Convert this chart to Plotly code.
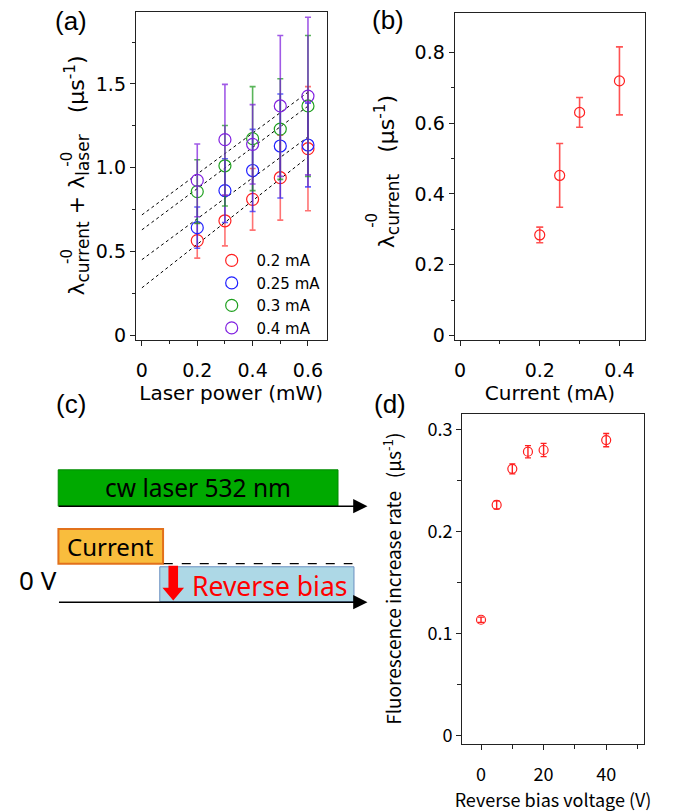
import plotly.graph_objects as go

W, H = 683, 812

# ---------------- data ----------------
# panel (a)
laser_power = [0.2, 0.3, 0.4, 0.5, 0.6]
current_labels = ["0.2 mA", "0.25 mA", "0.3 mA", "0.4 mA"]
rate_02 = [0.566, 0.684, 0.812, 0.941, 1.114]
err_02 = [0.105, 0.15, 0.184, 0.253, 0.37]
rate_025 = [0.643, 0.864, 0.984, 1.130, 1.136]
err_025 = [0.123, 0.19, 0.245, 0.31, 0.25]
rate_03 = [0.858, 1.012, 1.174, 1.231, 1.369]
err_03 = [0.19, 0.24, 0.31, 0.30, 0.42]
rate_04 = [0.925, 1.168, 1.140, 1.369, 1.428]
err_04 = [0.217, 0.33, 0.237, 0.42, 0.47]
fit_intercept = [0.284, 0.452, 0.630, 0.719]
fit_slope = [1.30, 1.22, 1.23, 1.22]
fit_x = [0.0, 0.6]

# panel (b)
current_mA = [0.2, 0.25, 0.3, 0.4]
lam_current = [0.284, 0.452, 0.630, 0.719]
lam_current_err = [0.022, 0.09, 0.042, 0.096]

# panel (d)
bias_voltage = [0, 5, 10, 15, 20, 40]
fluor_rate = [0.1133, 0.226, 0.2614, 0.2782, 0.2799, 0.2896]
fluor_rate_err = [0.0026, 0.004, 0.0049, 0.006, 0.0065, 0.0065]

a_colors = ["#FF2020", "#2020FF", "#1FA01F", "#8020E0"]
a_err_colors = ["rgba(255,40,40,0.65)", "rgba(30,30,255,0.7)",
                "rgba(20,150,20,0.7)", "rgba(120,20,220,0.7)"]


def px(x):
    return x / W


def py(y):
    return 1 - y / H


fig = go.Figure()

rates = [rate_02, rate_025, rate_03, rate_04]
errs = [err_02, err_025, err_03, err_04]

# fit lines (a)
for b, m in zip(fit_intercept, fit_slope):
    fig.add_trace(go.Scatter(
        x=fit_x, y=[b + m * v for v in fit_x], mode="lines",
        line=dict(color="black", width=1, dash="dot"),
        showlegend=False, hoverinfo="skip", xaxis="x", yaxis="y"))

for lab, r, e, c, ec in zip(current_labels, rates, errs, a_colors, a_err_colors):
    fig.add_trace(go.Scatter(
        x=laser_power, y=r, mode="markers", name=" " + lab,
        marker=dict(symbol="circle-open", size=12, color=c, line=dict(width=1.2, color=c)),
        error_y=dict(type="data", array=e, visible=True, color=ec, thickness=1.6, width=3),
        xaxis="x", yaxis="y"))

# panel (b)
fig.add_trace(go.Scatter(
    x=current_mA, y=lam_current, mode="markers", showlegend=False,
    marker=dict(symbol="circle-open", size=10, color="#FF2020", line=dict(width=1.2, color="#FF2020")),
    error_y=dict(type="data", array=lam_current_err, visible=True,
                 color="rgba(255,40,40,0.8)", thickness=1.6, width=3.5),
    xaxis="x2", yaxis="y2"))

# panel (d)
fig.add_trace(go.Scatter(
    x=bias_voltage, y=fluor_rate, mode="markers", showlegend=False,
    marker=dict(symbol="circle-open", size=9, color="#FF2020", line=dict(width=1.2, color="#FF2020")),
    error_y=dict(type="data", array=fluor_rate_err, visible=True,
                 color="#FF2020", thickness=1.4, width=3),
    xaxis="x3", yaxis="y3"))

axis_common = dict(showline=True, linecolor="#222", linewidth=1, mirror=True,
                   ticks="outside", ticklen=5, tickcolor="#222", tickwidth=1,
                   showgrid=False, zeroline=False)
tfont = dict(family="DejaVu Sans", size=19, color="black")
dfont = dict(family="Noto Sans CJK JP", size=18, color="black")

fig.update_layout(
    width=W, height=H, margin=dict(l=0, r=0, t=0, b=0),
    paper_bgcolor="white", plot_bgcolor="white",
    xaxis=dict(domain=[px(135), px(326)], range=[-0.022, 0.667], anchor="y",
               tickvals=[0, 0.2, 0.4, 0.6], ticktext=["0", "0.2", "0.4", "0.6"],
               minor=dict(tickvals=[0.1, 0.3, 0.5], ticklen=3, ticks="outside", tickcolor="#222"),
               tickfont=tfont, ticklabelstandoff=8,
               title=dict(text="Laser power (mW)", font=dict(family="DejaVu Sans", size=20, color="black"), standoff=2),
               **axis_common),
    yaxis=dict(domain=[py(343), py(12)], range=[-0.03, 1.93], anchor="x",
               tickvals=[0, 0.5, 1.0, 1.5], ticktext=["0", "0.5", "1.0", "1.5"],
               minor=dict(tickvals=[0.25, 0.75, 1.25, 1.75], ticklen=3, ticks="outside", tickcolor="#222"),
               tickfont=tfont, **axis_common),
    xaxis2=dict(domain=[px(454.3), px(645.3)], range=[-0.0135, 0.465], anchor="y2",
                tickvals=[0, 0.2, 0.4], ticktext=["0", "0.2", "0.4"],
                minor=dict(tickvals=[0.1, 0.3], ticklen=3, ticks="outside", tickcolor="#222"),
                tickfont=tfont, ticklabelstandoff=8,
                title=dict(text="Current (mA)", font=dict(family="DejaVu Sans", size=20, color="black"), standoff=2),
                **axis_common),
    yaxis2=dict(domain=[py(343), py(13)], range=[-0.014, 0.911], anchor="x2",
                tickvals=[0, 0.2, 0.4, 0.6, 0.8], ticktext=["0", "0.2", "0.4", "0.6", "0.8"],
                minor=dict(tickvals=[0.1, 0.3, 0.5, 0.7], ticklen=3, ticks="outside", tickcolor="#222"),
                tickfont=tfont, **axis_common),
    xaxis3=dict(domain=[px(461.7), px(644)], range=[-6.07, 52.1], anchor="y3",
                tickvals=[0, 20, 40], ticktext=["0", "20", "40"],
                minor=dict(tickvals=[10, 30, 50], ticklen=4, ticks="outside", tickcolor="#222"),
                tickfont=dfont, ticklabelstandoff=10,
                title=dict(text="Reverse bias voltage (V)", font=dict(family="Noto Sans CJK JP", size=18, color="black"), standoff=4),
                **axis_common),
    yaxis3=dict(domain=[py(749.3), py(416.7)], range=[-0.0084, 0.3156], anchor="x3",
                tickvals=[0, 0.1, 0.2, 0.3], ticktext=["0", "0.1", "0.2", "0.3"],
                minor=dict(tickvals=[0.05, 0.15, 0.25], ticklen=4, ticks="outside", tickcolor="#222"),
                tickfont=dfont,
                title=dict(text="Fluorescence increase rate   (μs<sup>-1</sup>)",
                           font=dict(family="Noto Sans CJK JP", size=19, color="black"), standoff=20),
                **axis_common),
    legend=dict(x=px(211), y=py(246), xanchor="left", yanchor="top",
                bgcolor="rgba(0,0,0,0)", font=dict(family="DejaVu Sans", size=15, color="black"),
                itemwidth=30, tracegroupgap=0),
)

ann = []
lab_font = dict(family="Liberation Sans", size=26, color="black")
for t, x, y in [("(a)", 70, 21), ("(b)", 388, 20), ("(c)", 70, 407), ("(d)", 390, 407)]:
    ann.append(dict(text=t, x=px(x), y=py(y), xref="paper", yref="paper",
                    showarrow=False, xanchor="center", yanchor="middle", font=lab_font))

SUB = "<sub><span style='font-size:17px'>{}</span></sub>"
# y titles (a) and (b) with stacked superscripts
ann.append(dict(text="λ" + SUB.format("current") + " + λ" + SUB.format("laser") + "   (μs<sup>-1</sup>)",
                x=px(76), y=py(177), xref="paper", yref="paper", showarrow=False,
                textangle=-90, xanchor="center", yanchor="middle",
                font=dict(family="DejaVu Sans", size=22, color="black")))
for yy in [258, 160]:
    ann.append(dict(text="-0", x=px(66), y=py(yy), xref="paper", yref="paper", showarrow=False,
                    textangle=-90, xanchor="center", yanchor="middle",
                    font=dict(family="DejaVu Sans", size=15, color="black")))
ann.append(dict(text="λ" + SUB.format("current") + "   (μs<sup>-1</sup>)",
                x=px(386), y=py(173), xref="paper", yref="paper", showarrow=False,
                textangle=-90, xanchor="center", yanchor="middle",
                font=dict(family="DejaVu Sans", size=22, color="black")))
ann.append(dict(text="-0", x=px(372), y=py(222), xref="paper", yref="paper", showarrow=False,
                textangle=-90, xanchor="center", yanchor="middle",
                font=dict(family="DejaVu Sans", size=15, color="black")))

# panel (c) diagram texts
cfont = "Noto Sans"
ann.append(dict(text="cw laser 532 nm", x=px(197), y=py(491), xref="paper", yref="paper",
                xanchor="center", yanchor="middle",
                showarrow=False, font=dict(family=cfont, size=24.5, color="black")))
ann.append(dict(text="Current", x=px(110), y=py(551), xref="paper", yref="paper",
                xanchor="center", yanchor="middle",
                showarrow=False, font=dict(family=cfont, size=24, color="black")))
ann.append(dict(text="Reverse bias", x=px(189), y=py(590), xref="paper", yref="paper",
                xanchor="left", yanchor="middle",
                showarrow=False, font=dict(family=cfont, size=26.5, color="red")))
ann.append(dict(text="0 V", x=px(37), y=py(584), xref="paper", yref="paper",
                xanchor="center", yanchor="middle",
                showarrow=False, font=dict(family=cfont, size=26, color="black")))

# arrows (time axes)
for yy in [510, 606.7]:
    ann.append(dict(text="", x=px(367), y=py(yy), xref="paper", yref="paper",
                    ax=-(367 - 57), ay=0, axref="pixel", ayref="pixel",
                    showarrow=True, arrowhead=2, arrowsize=1.9, arrowwidth=1.5,
                    arrowcolor="black", standoff=0))

fig.update_layout(annotations=ann)

shapes = [
    dict(type="rect", xref="paper", yref="paper", x0=px(57.3), x1=px(337.5), y0=py(510), y1=py(473.3),
         fillcolor="#00AA00", line=dict(color="#008A00", width=1), layer="below"),
    dict(type="rect", xref="paper", yref="paper", x0=px(57.5), x1=px(162.3), y0=py(568), y1=py(533),
         fillcolor="#F9BD3D", line=dict(color="#E2711B", width=2), layer="below"),
    dict(type="rect", xref="paper", yref="paper", x0=px(159), x1=px(353.5), y0=py(606), y1=py(571),
         fillcolor="#ADD8E6", line=dict(color="#6A8FC0", width=1), layer="below"),
    dict(type="line", xref="paper", yref="paper", x0=px(163), x1=px(352), y0=py(567.8), y1=py(567.8),
         line=dict(color="black", width=1.2, dash="dash")),
    dict(type="path", xref="paper", yref="paper",
         path=("M {a},{b} L {c},{b} L {c},{d} L {e},{d} L {f},{g} L {h},{d} L {i},{d} Z").format(
             a=px(167.7), b=py(570), c=px(177.3), d=py(592), e=px(183.3), f=px(172.5), g=py(605),
             h=px(161.7), i=px(167.7)),
         fillcolor="#FF0000", line=dict(color="#FF0000", width=0)),
]
fig.update_layout(shapes=shapes)

fig.write_html("out.html")
